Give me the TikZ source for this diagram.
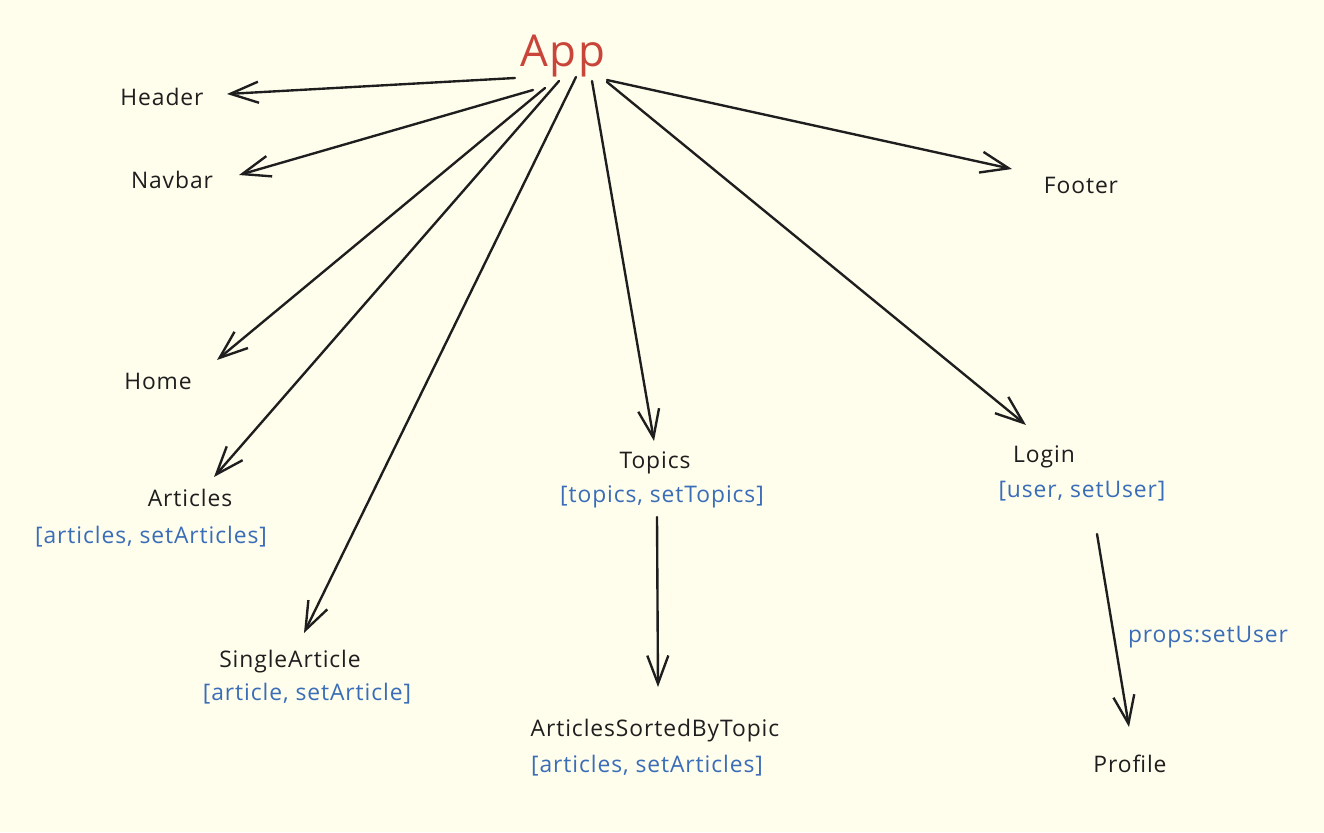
\documentclass[tikz,border=0pt]{standalone}
\usepackage{fontspec}
\setmainfont{Open Sans}[LetterSpace=4]
\usetikzlibrary{arrows.meta}
\definecolor{paper}{HTML}{FFFDEC}
\definecolor{appred}{HTML}{C9453A}
\definecolor{stateblue}{HTML}{3A6DB8}
\definecolor{ink}{HTML}{1E1E1E}

\begin{document}
\begin{tikzpicture}[
    x=0.02cm, y=-0.02cm,
    comp/.style={anchor=base, inner sep=0pt, font=\fontsize{13}{15}\selectfont, text=ink},
    state/.style={comp, text=stateblue},
    root/.style={anchor=base, inner sep=0pt, font=\fontsize{25}{30}\selectfont, text=appred},
    arrow/.style={-{Straight Barb[length=16pt,width=12pt]}, line width=1.35pt, line cap=round, line join=round, ink}
  ]

  % Background
  \fill[paper] (0,0) rectangle (1324,832);

  % Root component
  \node[root] (app) at (563,66) {App};

  % Child components
  \node[comp] (header) at (162,105) {Header};
  \node[comp] (navbar) at (172,188) {Navbar};
  \node[comp] (home) at (158,389) {Home};
  \node[comp] (articles) at (190,506) {Articles};
  \node[state] (articlesstate) at (151,543) {[articles, setArticles]};
  \node[comp] (single) at (290,667) {SingleArticle};
  \node[state] (singlestate) at (307,700) {[article, setArticle]};
  \node[comp] (topics) at (655,468) {Topics};
  \node[state] (topicsstate) at (662,502) {[topics, setTopics]};
  \node[comp] (sorted) at (655,736) {ArticlesSortedByTopic};
  \node[state] (sortedstate) at (647,772) {[articles, setArticles]};
  \node[comp] (login) at (1044,462) {Login};
  \node[state] (loginstate) at (1082,497) {[user, setUser]};
  \node[comp] (footer) at (1081,193) {Footer};
  \node[comp] (profile) at (1130,772) {Profile};
  \node[state] (propslabel) at (1208,642) {props:setUser};

  % Arrows from App
  \draw[arrow] ([shift={(-48,12)}]app.base) -- ([shift={(65,-11)}]header.base);
  \draw[arrow] ([shift={(-30,24)}]app.base) -- ([shift={(67,-13)}]navbar.base);
  \draw[arrow] ([shift={(-18,22)}]app.base) -- ([shift={(59,-29)}]home.base);
  \draw[arrow] ([shift={(-4,15)}]app.base) -- ([shift={(24,-29)}]articles.base);
  \draw[arrow] ([shift={(13,11)}]app.base) -- ([shift={(14,-34)}]single.base);
  \draw[arrow] ([shift={(29,15)}]app.base) -- ([shift={(-1,-27)}]topics.base);
  \draw[arrow] ([shift={(44,16)}]app.base) -- ([shift={(-18,-37)}]login.base);
  \draw[arrow] ([shift={(44,14)}]app.base) -- ([shift={(-69,-24)}]footer.base);

  % Nested arrows
  \draw[arrow] ([shift={(-5,15)}]topicsstate.base) -- ([shift={(3,-49)}]sorted.base);
  \draw[arrow] ([shift={(15,37)}]loginstate.base) -- ([shift={(-1,-45)}]profile.base);

\end{tikzpicture}
\end{document}
